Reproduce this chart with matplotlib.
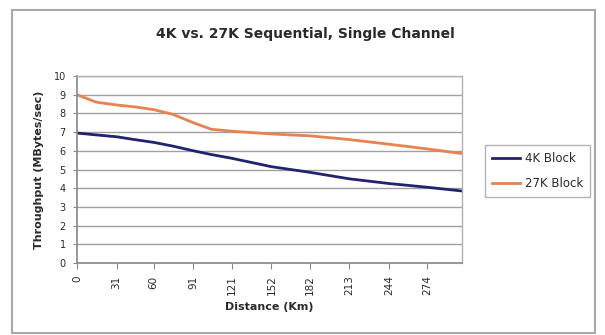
import matplotlib.pyplot as plt
from matplotlib.patches import Rectangle

# distance along the link (km) and measured throughput (MBytes/sec)
distance_km = [0, 15, 31, 45, 60, 75, 91, 105, 121, 152, 182, 213, 244, 274, 301]
block_4k = [6.95, 6.85, 6.75, 6.6, 6.45, 6.25, 6.0, 5.8, 5.6, 5.15, 4.85, 4.5, 4.25, 4.05, 3.85]
block_27k = [9.0, 8.6, 8.45, 8.35, 8.2, 7.95, 7.5, 7.15, 7.05, 6.9, 6.8, 6.6, 6.35, 6.1, 5.85]
x_ticks = [0, 31, 60, 91, 121, 152, 182, 213, 244, 274]
y_ticks = list(range(0, 11))

plt.rcParams['font.family'] = ['DejaVu Sans']
text_color = '#2a2a2a'

fig = plt.figure(figsize=(6.05, 3.35), dpi=100)

# outer chart frame
fig.patches.append(Rectangle((12 / 605, 1 - 333 / 335), 583 / 605, 323 / 335,
                             transform=fig.transFigure, fill=False,
                             edgecolor='#a8a8a8', lw=1.5))

ax = fig.add_axes([77 / 605, 1 - 263 / 335, 385 / 605, 187 / 335])
ax.plot(distance_km, block_4k, color='#22226e', lw=2.0, label='4K Block')
ax.plot(distance_km, block_27k, color='#e8824e', lw=2.0, label='27K Block')

ax.set_xlim(0, 301)
ax.set_ylim(0, 10)
ax.set_xticks(x_ticks)
ax.set_xticklabels([str(t) for t in x_ticks], rotation=90, fontsize=7.5, color=text_color)
ax.set_yticks(y_ticks)
ax.set_yticklabels([str(t) for t in y_ticks], fontsize=7, color=text_color)
ax.tick_params(axis='x', length=4, width=0.8, color='#888888', pad=5)
ax.tick_params(axis='y', length=3, width=0.8, color='#888888', pad=5)
ax.yaxis.grid(True, color='#a0a0a0', lw=1.0)
ax.set_axisbelow(True)
for side in ['top', 'right']:
    ax.spines[side].set_color('#b0b0b0')
    ax.spines[side].set_linewidth(1.0)
for side in ['left', 'bottom']:
    ax.spines[side].set_color('#888888')
    ax.spines[side].set_linewidth(1.2)

ax.set_xlabel('Distance (Km)', fontsize=8, fontweight='bold', color=text_color, labelpad=5)
ax.set_ylabel('Throughput (MBytes/sec)', fontsize=8, fontweight='bold', color=text_color, labelpad=7)

fig.text(305 / 605, 1 - 34 / 335, '4K vs. 27K Sequential, Single Channel',
         ha='center', va='center', fontsize=10, fontweight='bold', color=text_color)

leg = ax.legend(loc='center left', bbox_to_anchor=(485 / 605, 1 - 171 / 335),
                bbox_transform=fig.transFigure, fontsize=8.5, frameon=True,
                fancybox=False, edgecolor='#a0a0a0', handlelength=2.4,
                handletextpad=0.4, borderpad=0.6, borderaxespad=0,
                labelspacing=1.0)
leg.get_frame().set_linewidth(1.0)
for t in leg.get_texts():
    t.set_color(text_color)

fig.savefig('out.png', dpi=100)
